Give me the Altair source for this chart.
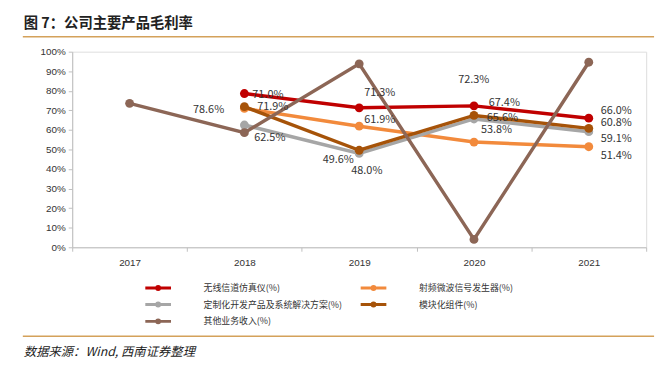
import altair as alt
import pandas as pd

years = ["2017", "2018", "2019", "2020", "2021"]
series = [
    "无线信道仿真仪(%)",
    "射频微波信号发生器(%)",
    "定制化开发产品及系统解决方案(%)",
    "模块化组件(%)",
    "其他业务收入(%)",
]
wireless = [None, 78.6, 71.3, 72.3, 66.0]
rf = [None, 71.0, 61.9, 53.8, 51.4]
custom = [None, 62.5, 48.0, 65.6, 59.1]
module = [None, 71.9, 49.6, 67.4, 60.8]
other = [73.6, 58.6, 93.8, 4.0, 94.6]
colors = ["#C00000", "#F28A3C", "#A6A6A6", "#A65309", "#8C6656"]

values_by_series = [wireless, rf, custom, module, other]
rows = []
for s, vals in zip(series, values_by_series):
    for y, v in zip(years, vals):
        if v is not None:
            rows.append({"year": y, "series": s, "value": v})
df = pd.DataFrame(rows)

# data labels: (series index, year, value) and pixel offsets for placement
label_series = [0, 1, 3, 2, 0, 1, 3, 2, 0, 3, 2, 1, 0, 3, 2, 1]
label_years = ["2018", "2018", "2018", "2018", "2019", "2019", "2019", "2019",
               "2020", "2020", "2020", "2020", "2021", "2021", "2021", "2021"]
label_values = [78.6, 71.0, 71.9, 62.5, 71.3, 61.9, 49.6, 48.0,
                72.3, 67.4, 65.6, 53.8, 66.0, 60.8, 59.1, 51.4]
label_dx = [-52, 8, 13, 10, 5, 5, -37, -8, -16, 15, 13, 7, 12, 12, 12, 12]
label_dy = [17, -14, 0, 13, -15, -6, 10, 18, -26, -13, -1, -12, -7, -5, 7, 9]

W, H = 581, 198

color_scale = alt.Scale(domain=series, range=colors)
x_enc = alt.X("year:N", scale=alt.Scale(domain=years, paddingInner=0, paddingOuter=0),
              axis=alt.Axis(title=None, labelAngle=0, domainColor="#BFBFBF", tickColor="#BFBFBF",
                            tickBand="extent", tickSize=4, labelFont="Liberation Sans",
                            labelFontSize=10, labelColor="#333333", labelPadding=6))
y_enc = alt.Y("value:Q", scale=alt.Scale(domain=[0, 100], nice=False),
              axis=alt.Axis(title=None, values=list(range(0, 101, 10)), labelExpr="datum.value + '%'",
                            domainColor="#BFBFBF", tickColor="#BFBFBF", tickSize=4, grid=False,
                            labelFont="Liberation Sans", labelFontSize=10, labelColor="#333333",
                            labelPadding=3))

layers = []
for i, s in enumerate(series):
    sub = df[df["series"] == s]
    base = alt.Chart(sub)
    line = base.mark_line(strokeWidth=3.5).encode(
        x=x_enc, y=y_enc,
        color=alt.Color("series:N", scale=color_scale, sort=series,
                        legend=alt.Legend(
                            title=None, orient="none", legendX=79, legendY=231, columns=2,
                            direction="horizontal",
                            columnPadding=12, rowPadding=1, padding=0,
                            symbolType="M-2,0H2M-0.23,0A0.23,0.23 0 1,1 0.23,0A0.23,0.23 0 1,1 -0.23,0Z",
                            symbolSize=169, symbolStrokeWidth=3, labelOffset=38,
                            labelFont="Noto Sans CJK SC", labelFontSize=9, labelColor="#333333",
                            labelLimit=300)),
    )
    pts = base.mark_circle(size=80, opacity=1).encode(
        x=x_enc, y=y_enc, color=alt.Color("series:N", scale=color_scale, legend=None)
    )
    layers += [line, pts]

for si, yr, v, dx, dy in zip(label_series, label_years, label_values, label_dx, label_dy):
    ldf = pd.DataFrame([{"year": yr, "value": v, "txt": f"{v:.1f}%"}])
    layers.append(
        alt.Chart(ldf).mark_text(align="left", baseline="middle", dx=dx, dy=dy,
                                 font="Noto Sans CJK SC", fontSize=11, color="#333333")
        .encode(x=x_enc, y=y_enc, text="txt:N")
    )

title_txt = ["图 7：公司主要产品毛利率"]
source_txt = ["数据来源：Wind, 西南证券整理"]

deco = pd.DataFrame({"a": [0]})
title = alt.Chart(deco).mark_text(align="left", baseline="middle", font="Noto Sans CJK SC",
                                  fontSize=14.5, fontWeight="bold", color="#222222").encode(
    x=alt.value(-49), y=alt.value(-28), text=alt.value(title_txt[0]))
source = alt.Chart(deco).mark_text(align="left", baseline="middle", font="Noto Sans CJK SC",
                                   fontSize=12.5, fontStyle="italic", color="#222222").encode(
    x=alt.value(-49), y=alt.value(304), text=alt.value(source_txt[0]))
rule_top = alt.Chart(deco).mark_rule(color="#D4A15A", strokeWidth=1.5).encode(
    x=alt.value(-50), x2=alt.value(589), y=alt.value(-15))
rule_bot = alt.Chart(deco).mark_rule(color="#D4A15A", strokeWidth=1.5).encode(
    x=alt.value(-50), x2=alt.value(589), y=alt.value(288))

chart = alt.layer(*layers, title, source, rule_top, rule_bot).properties(
    width=W, height=H,
    autosize=alt.AutoSizeParams(type="none"),
    padding={"left": 65, "top": 42, "right": 14, "bottom": 121},
).configure_view(stroke=None).configure(background="white")

chart.save("out.html", embed_options={"renderer": "svg", "actions": False})
